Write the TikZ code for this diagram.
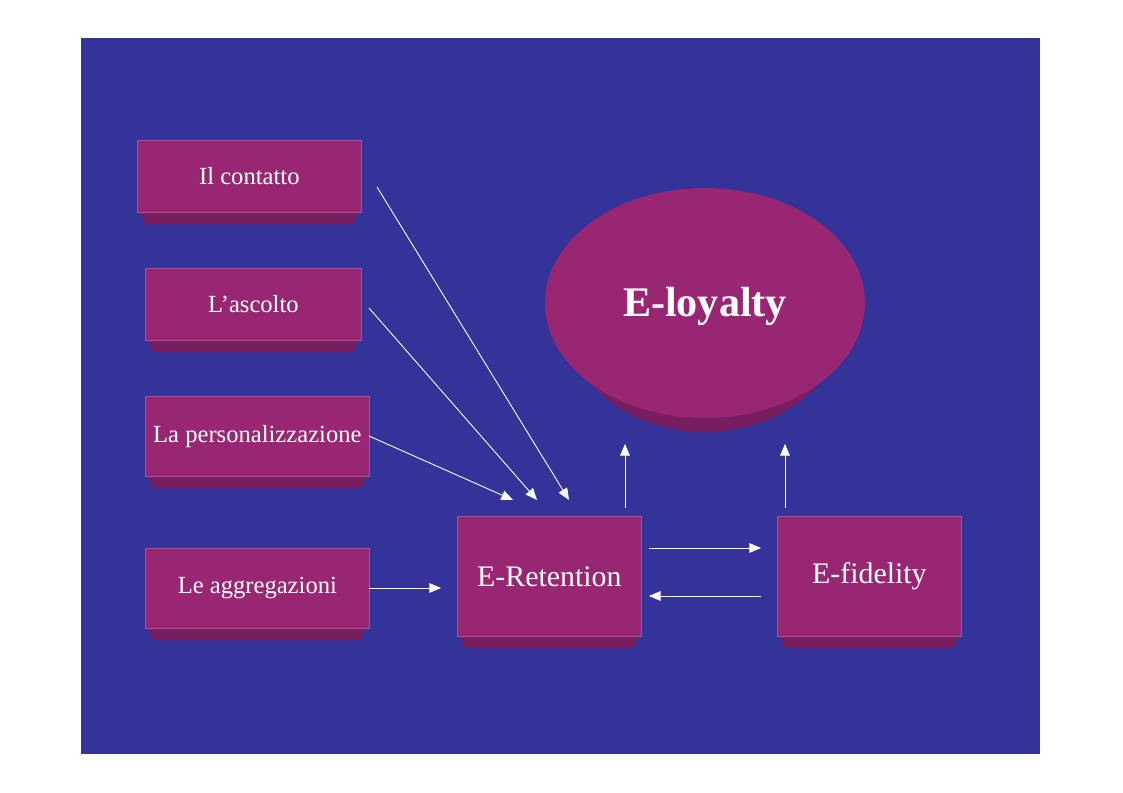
\documentclass[tikz,border=0pt]{standalone}
\usepackage{fontspec}
\setmainfont{Liberation Serif}
\usetikzlibrary{arrows}
\definecolor{slideblue}{RGB}{51,51,153}
\definecolor{boxmag}{RGB}{153,38,115}
\definecolor{boxshade}{RGB}{120,30,95}
\tikzset{
  box/.style={fill=boxmag,draw=boxmag!80!white,inner sep=0pt,text=white,font=\fontsize{14}{16}\selectfont},
  link/.style={white,-triangle 45,line width=0.5pt}
}
\newcommand{\shadebox}[5]{%
  \fill[boxshade] (#1+3,#4) -- (#1+8,#4+12) -- (#3-8,#4+12) -- (#3-3,#4) -- cycle;
  \node[box,minimum width={(#3-#1)*0.02cm},minimum height={(#4-#2)*0.02cm},anchor=north west] (#5) at (#1,#2) {};
}
\begin{document}
\begin{tikzpicture}[x={(0.02cm,0)},y={(0,-0.02cm)}]
\useasboundingbox[fill=white] (0,0) rectangle (1123,793);
\fill[slideblue] (81,38) rectangle (1040,754);
% left column
\shadebox{137}{140}{361}{212}{contatto}
\shadebox{145}{268}{361}{340}{ascolto}
\shadebox{145}{396}{369}{476}{person}
\shadebox{145}{548}{369}{628}{aggreg}
\node[text=white,font=\fontsize{14}{16}\selectfont] at (contatto) {Il contatto};
\node[text=white,font=\fontsize{14}{16}\selectfont] at (ascolto) {L’ascolto};
\node[text=white,font=\fontsize{14}{16}\selectfont] at (person) {La personalizzazione};
\node[text=white,font=\fontsize{14}{16}\selectfont] at (aggreg) {Le aggregazioni};
% right part
\shadebox{457}{516}{641}{636}{retention}
\shadebox{777}{516}{961}{636}{fidelity}
\node[text=white,font=\fontsize{17}{20}\selectfont] at (retention) {E-Retention};
\node[text=white,font=\fontsize{17}{20}\selectfont] at (fidelity) {E-fidelity};
\fill[boxshade] (705,316) ellipse [x radius=140, y radius=116];
\fill[boxmag] (705,303) ellipse [x radius=160, y radius=115];
\node[text=white,font=\fontsize{24}{28}\selectfont\bfseries] (loyalty) at (705,306) {E-loyalty};
% connectors
\coordinate (c1) at (377,187); \coordinate (c2) at (569,500);
\coordinate (a1) at (369,308); \coordinate (a2) at (537,500);
\coordinate (p1) at (369,436); \coordinate (p2) at (513,500);
\coordinate (g1) at (369,588); \coordinate (g2) at (441,588);
\coordinate (r1) at (649,548); \coordinate (f1) at (761,548);
\coordinate (f2) at (761,596); \coordinate (r2) at (649,596);
\coordinate (ru) at (625,508); \coordinate (ro) at (625,444);
\coordinate (fu) at (785,508); \coordinate (fo) at (785,444);
\draw[link] (c1) -- (c2);
\draw[link] (a1) -- (a2);
\draw[link] (p1) -- (p2);
\draw[link] (g1) -- (g2);
\draw[link] (r1) -- (f1);
\draw[link] (f2) -- (r2);
\draw[link] (ru) -- (ro);
\draw[link] (fu) -- (fo);
\end{tikzpicture}
\end{document}
